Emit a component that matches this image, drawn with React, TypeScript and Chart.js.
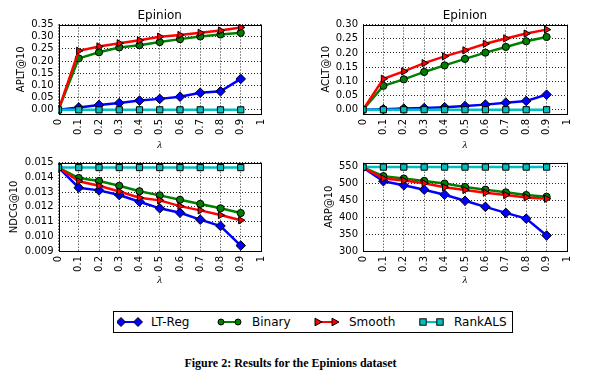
import React, { useEffect, useRef } from 'react';
import { Chart, registerables } from 'chart.js';
Chart.register(...registerables);

// ---- shared data ----
const lambdas = [0, 0.1, 0.2, 0.3, 0.4, 0.5, 0.6, 0.7, 0.8, 0.9];
const xTicks = [0, 0.1, 0.2, 0.3, 0.4, 0.5, 0.6, 0.7, 0.8, 0.9, 1];
const xTickLabels = ['0', '0.1', '0.2', '0.3', '0.4', '0.5', '0.6', '0.7', '0.8', '0.9', '1'];
const seriesNames = ['LT-Reg', 'Binary', 'Smooth', 'RankALS'];

// APLT@10
const apltLTReg = [0.0, 0.01, 0.02, 0.028, 0.038, 0.045, 0.054, 0.07, 0.076, 0.127];
const apltBinary = [0.0, 0.211, 0.236, 0.256, 0.265, 0.278, 0.29, 0.301, 0.309, 0.316];
const apltSmooth = [0.0, 0.242, 0.26, 0.273, 0.285, 0.3, 0.307, 0.316, 0.325, 0.338];
const apltRankALS = [0, 0, 0, 0, 0, 0, 0, 0, 0, 0];
const apltTicks = [0, 0.05, 0.1, 0.15, 0.2, 0.25, 0.3, 0.35];
const apltTickLabels = ['0.00', '0.05', '0.10', '0.15', '0.20', '0.25', '0.30', '0.35'];

// ACLT@10
const acltLTReg = [0.0, 0.002, 0.004, 0.006, 0.009, 0.013, 0.018, 0.025, 0.031, 0.053];
const acltBinary = [0.0, 0.084, 0.107, 0.133, 0.156, 0.179, 0.201, 0.221, 0.241, 0.256];
const acltSmooth = [0.0, 0.109, 0.135, 0.164, 0.188, 0.209, 0.232, 0.251, 0.268, 0.282];
const acltRankALS = [0, 0, 0, 0, 0, 0, 0, 0, 0, 0];
const acltTicks = [0, 0.05, 0.1, 0.15, 0.2, 0.25, 0.3];
const acltTickLabels = ['0.00', '0.05', '0.10', '0.15', '0.20', '0.25', '0.30'];

// NDCG@10
const ndcgLTReg = [0.01467, 0.0133, 0.01312, 0.0128, 0.01235, 0.0119, 0.0116, 0.01113, 0.0107, 0.00937];
const ndcgBinary = [0.01467, 0.01396, 0.01376, 0.01343, 0.01306, 0.01278, 0.01248, 0.0122, 0.0119, 0.01158];
const ndcgSmooth = [0.01467, 0.01374, 0.01343, 0.01304, 0.01262, 0.01244, 0.01205, 0.01176, 0.01144, 0.01109];
const ndcgRankALS = [0.01467, 0.01467, 0.01467, 0.01467, 0.01467, 0.01467, 0.01467, 0.01467, 0.01467, 0.01467];
const ndcgTicks = [0.009, 0.01, 0.011, 0.012, 0.013, 0.014, 0.015];
const ndcgTickLabels = ['0.009', '0.010', '0.011', '0.012', '0.013', '0.014', '0.015'];

// ARP@10
const arpLTReg = [548, 507, 495, 482, 467, 449, 431, 413, 396, 346];
const arpBinary = [548, 522, 515, 508, 500, 490, 482, 474, 466, 461];
const arpSmooth = [548, 515, 509, 501, 489, 481, 473, 466, 459, 455];
const arpRankALS = [549, 549, 549, 549, 549, 549, 549, 549, 549, 549];
const arpTicks = [300, 350, 400, 450, 500, 550];
const arpTickLabels = ['300', '350', '400', '450', '500', '550'];

const seriesStyles = [
  { color: '#0000ff', pointStyle: 'rectRot', radius: 4.8, rotation: 0 },
  { color: '#008000', pointStyle: 'circle', radius: 3.6, rotation: 0 },
  { color: '#ff0000', pointStyle: 'triangle', radius: 4.2, rotation: 90 },
  { color: '#00bfbf', pointStyle: 'rect', radius: 4.4, rotation: 0 },
];

const SANS = '"DejaVu Sans", sans-serif';

const framePlugin = {
  id: 'frame',
  afterDraw(chart: any) {
    const { ctx, chartArea } = chart;
    const { left, top, right, bottom } = chartArea;
    ctx.save();
    ctx.strokeStyle = '#000';
    ctx.lineWidth = 1;
    ctx.strokeRect(Math.round(left) + 0.5, Math.round(top) + 0.5, Math.round(right) - Math.round(left), Math.round(bottom) - Math.round(top));
    ctx.restore();
  },
};

type PanelProps = {
  left: number; top: number; width: number; height: number;
  series: number[][];
  yTicks: number[]; yTickLabels: string[]; yMin: number; yMax: number;
  yTitle: string; yTitlePad: number; yWidth: number; xHeight: number;
  padRight: number; padTop: number; title?: string;
};

function Panel(p: PanelProps) {
  const ref = useRef<HTMLCanvasElement>(null);
  useEffect(() => {
    if (!ref.current) return;
    const datasets = p.series.map((vals, i) => {
      const s = seriesStyles[i];
      return {
        label: seriesNames[i],
        data: lambdas.map((x, j) => ({ x, y: vals[j] })),
        borderColor: s.color,
        backgroundColor: s.color,
        borderWidth: 2.5,
        pointStyle: s.pointStyle as any,
        pointRadius: s.radius,
        pointRotation: s.rotation,
        pointBackgroundColor: s.color,
        pointBorderColor: '#000',
        pointBorderWidth: 1,
        tension: 0,
        order: 3 - i,
      };
    });
    const chart = new Chart(ref.current, {
      type: 'line',
      data: { datasets },
      plugins: [framePlugin],
      options: {
        animation: false,
        responsive: false,
        devicePixelRatio: 1,
        layout: { padding: { left: 0, right: p.padRight, top: p.padTop, bottom: 0 } },
        plugins: {
          legend: { display: false },
          tooltip: { enabled: false },
          title: p.title
            ? {
                display: true,
                text: p.title,
                fullSize: false,
                color: '#000',
                font: { family: SANS, size: 12, weight: 'normal' },
                padding: { top: 9, bottom: 1.1 },
              }
            : { display: false },
        },
        scales: {
          x: {
            type: 'linear',
            min: 0,
            max: 1,
            afterBuildTicks: (s: any) => { s.ticks = xTicks.map((v) => ({ value: v })); },
            afterFit: (s: any) => { s.height = p.xHeight; },
            ticks: {
              autoSkip: false,
              minRotation: 90,
              maxRotation: 90,
              padding: 5,
              color: '#000',
              font: { family: SANS, size: 10 },
              callback: (_v: any, i: number) => xTickLabels[i],
            },
            grid: { drawTicks: false, color: 'rgba(0,0,0,0.85)', lineWidth: 1 },
            border: { display: false, dash: [1, 2] },
            title: {
              display: true,
              text: 'λ',
              color: '#000',
              font: { family: '"Liberation Serif", serif', size: 11, style: 'italic' },
              padding: { top: 0, bottom: 0 },
            },
          },
          y: {
            type: 'linear',
            min: p.yMin,
            max: p.yMax,
            afterBuildTicks: (s: any) => { s.ticks = p.yTicks.map((v) => ({ value: v })); },
            afterFit: (s: any) => { s.width = p.yWidth; },
            ticks: {
              autoSkip: false,
              padding: 5,
              color: '#000',
              font: { family: SANS, size: 10 },
              callback: (_v: any, i: number) => p.yTickLabels[i],
            },
            grid: { drawTicks: false, color: 'rgba(0,0,0,0.85)', lineWidth: 1 },
            border: { display: false, dash: [1, 2] },
            title: {
              display: true,
              text: p.yTitle,
              color: '#000',
              font: { family: SANS, size: 10 },
              padding: { top: p.yTitlePad, bottom: 0 },
            },
          },
        },
      } as any,
    });
    return () => chart.destroy();
  }, []);
  return (
    <canvas
      ref={ref}
      width={p.width}
      height={p.height}
      style={{ position: 'absolute', left: p.left, top: p.top, width: p.width, height: p.height }}
    />
  );
}

function LegendMarker({ kind, color }: { kind: string; color: string }) {
  // svg 30x14, markers centred at x=4 and x=21
  const y = 7;
  const a = 4, b = 21;
  const m = (cx: number) => {
    if (kind === 'rectRot')
      return <polygon points={`${cx},${y - 4.5} ${cx + 4.5},${y} ${cx},${y + 4.5} ${cx - 4.5},${y}`} fill={color} stroke="#000" strokeWidth={1} />;
    if (kind === 'circle') return <circle cx={cx} cy={y} r={3} fill={color} stroke="#000" strokeWidth={1} />;
    if (kind === 'triangle')
      return <polygon points={`${cx - 3},${y - 3.8} ${cx + 4},${y} ${cx - 3},${y + 3.8}`} fill={color} stroke="#000" strokeWidth={1} />;
    return <rect x={cx - 3.2} y={y - 3.2} width={6.4} height={6.4} fill={color} stroke="#000" strokeWidth={1} />;
  };
  return (
    <svg width={30} height={14} style={{ position: 'absolute', top: 0 }}>
      <line x1={a} y1={y} x2={b} y2={y} stroke={color} strokeWidth={2} />
      {m(a)}
      {m(b)}
    </svg>
  );
}

const legendMarkerX = [117, 217, 314, 419];
const legendTextX = [151, 252, 349, 454];

export default function App() {
  return (
    <div style={{ position: 'absolute', left: 0, top: 0, width: 601, height: 374, background: '#fff', overflow: 'hidden' }}>
      <Panel left={0} top={0} width={300} height={152}
        series={[apltLTReg, apltBinary, apltSmooth, apltRankALS]}
        yTicks={apltTicks} yTickLabels={apltTickLabels} yMin={-0.017} yMax={0.35}
        yTitle="APLT@10" yTitlePad={15.7} yWidth={58.5} xHeight={38} padRight={39} padTop={0} title="Epinion" />
      <Panel left={300} top={0} width={301} height={152}
        series={[acltLTReg, acltBinary, acltSmooth, acltRankALS]}
        yTicks={acltTicks} yTickLabels={acltTickLabels} yMin={-0.015} yMax={0.3}
        yTitle="ACLT@10" yTitlePad={20.7} yWidth={63} xHeight={38} padRight={34} padTop={0} title="Epinion" />
      <Panel left={0} top={150} width={300} height={137}
        series={[ndcgLTReg, ndcgBinary, ndcgSmooth, ndcgRankALS]}
        yTicks={ndcgTicks} yTickLabels={ndcgTickLabels} yMin={0.009} yMax={0.015}
        yTitle="NDCG@10" yTitlePad={8.7} yWidth={58.5} xHeight={36} padRight={39} padTop={12.7} />
      <Panel left={300} top={150} width={301} height={137}
        series={[arpLTReg, arpBinary, arpSmooth, arpRankALS]}
        yTicks={arpTicks} yTickLabels={arpTickLabels} yMin={300} yMax={562}
        yTitle="ARP@10" yTitlePad={23} yWidth={63} xHeight={36} padRight={34} padTop={12.7} />

      <div style={{ position: 'absolute', left: 113, top: 311, width: 400, height: 22, border: '1px solid #000', boxSizing: 'border-box' }} />
      {seriesNames.map((name, i) => (
        <React.Fragment key={name}>
          <div style={{ position: 'absolute', left: legendMarkerX[i], top: 315, width: 30, height: 14 }}>
            <LegendMarker kind={seriesStyles[i].pointStyle} color={seriesStyles[i].color} />
          </div>
          <div style={{ position: 'absolute', left: legendTextX[i], top: 314, fontFamily: SANS, fontSize: 12, lineHeight: '16px', color: '#000', whiteSpace: 'nowrap' }}>
            {name}
          </div>
        </React.Fragment>
      ))}

      <div style={{ position: 'absolute', left: 0, top: 356, width: 581, textAlign: 'center', fontFamily: '"Liberation Serif", serif', fontWeight: 'bold', fontSize: 12, lineHeight: '14px', color: '#000' }}>
        Figure 2: Results for the Epinions dataset
      </div>
    </div>
  );
}
